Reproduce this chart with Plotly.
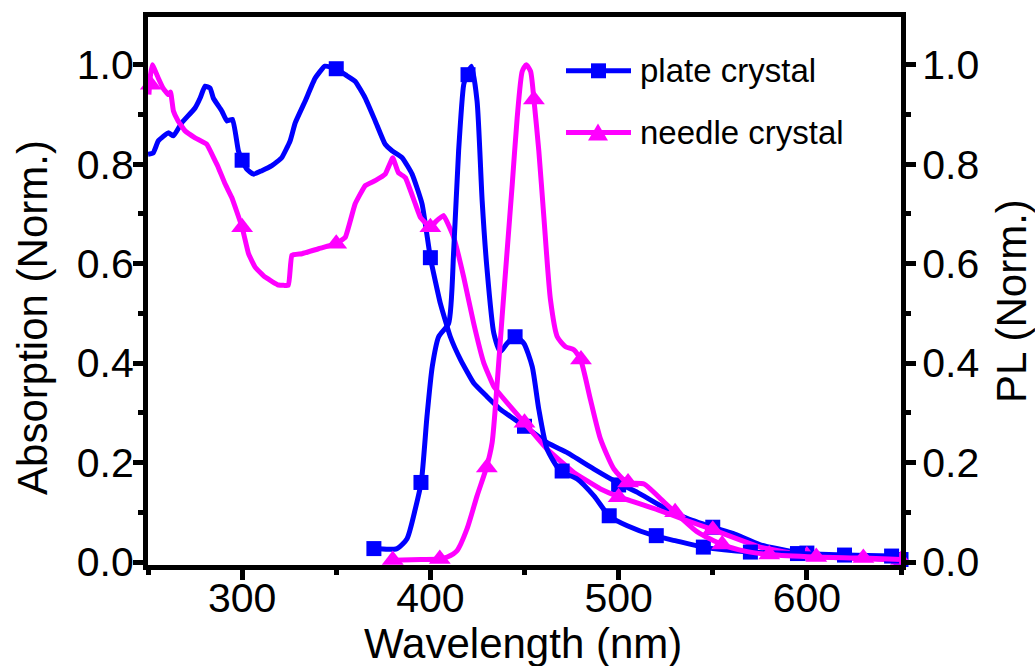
import plotly.graph_objects as go

# ---------------- data ----------------
# Absorption, plate crystal
abs_plate_wl = [250, 252.8, 255.5, 260.8, 263.5, 267.9, 275, 277.7, 280.3, 283, 284.7, 289.2, 291.9,
                294.9, 298, 300, 302.5, 306, 310.5, 315.8, 321, 325.5, 328.2, 333.5, 338.8, 344, 350,
                354.8, 360, 365.4, 370.7, 376, 379.6, 385, 390.3, 395.6, 400, 405.3, 410.6, 416, 423,
                430, 437.2, 450, 462, 472.7, 486.9, 499.3, 510, 522.3, 535, 550, 561, 575, 593, 614,
                630, 650]
abs_plate_val = [0.82, 0.823, 0.847, 0.863, 0.857, 0.883, 0.913, 0.933, 0.957, 0.953, 0.933, 0.907, 0.887,
                 0.89, 0.827, 0.808, 0.79, 0.78, 0.787, 0.797, 0.813, 0.847, 0.883, 0.927, 0.973, 0.997, 0.992,
                 0.98, 0.967, 0.933, 0.887, 0.84, 0.827, 0.813, 0.78, 0.72, 0.612, 0.52, 0.453, 0.407, 0.36,
                 0.333, 0.307, 0.273, 0.24, 0.22, 0.187, 0.16, 0.14, 0.113, 0.09, 0.07, 0.057, 0.035, 0.02, 0.013,
                 0.008, 0.005]
abs_plate_mk_wl = [300, 350, 400, 450, 500, 550, 600, 650]
abs_plate_mk_val = [0.808, 0.992, 0.612, 0.273, 0.155, 0.07, 0.018, 0.005]

# Absorption, needle crystal
abs_needle_wl = [250.5, 251, 252.3, 255.5, 258, 260.8, 262, 263.5, 266, 269.7, 275, 281.2, 285.6, 287.4,
                 291, 294.5, 300, 303.4, 306.9, 312.2, 319.3, 324.6, 326.4, 331.8, 340.6, 349.8, 354.8, 360,
                 365.4, 370.7, 376, 380, 383, 386.7, 392, 394.7, 400, 403, 407, 412.4, 417.7, 423, 428.4,
                 433.7, 440.8, 450, 462, 476.2, 490.4, 501, 522.3, 535, 550, 575, 600, 625, 650]
abs_needle_val = [0.94, 0.97, 1.0, 0.973, 0.953, 0.94, 0.945, 0.907, 0.887, 0.867, 0.853, 0.84, 0.807, 0.793,
                  0.76, 0.733, 0.673, 0.62, 0.593, 0.573, 0.557, 0.557, 0.617, 0.62, 0.63, 0.64, 0.653, 0.72,
                  0.757, 0.767, 0.78, 0.813, 0.783, 0.773, 0.72, 0.693, 0.673, 0.685, 0.697, 0.653, 0.573, 0.48,
                  0.4, 0.353, 0.32, 0.28, 0.227, 0.18, 0.147, 0.13, 0.103, 0.085, 0.065, 0.03, 0.013, 0.007,
                  0.004]
abs_needle_mk_wl = [251.5, 300, 350, 400, 450, 500, 550, 600, 650]
abs_needle_mk_val = [0.96, 0.673, 0.64, 0.673, 0.28, 0.13, 0.065, 0.013, 0.004]

# PL, plate crystal
pl_plate_wl = [370, 382.3, 387.6, 392, 395.2, 398.2, 401, 404.4, 409.7, 412.4, 415, 417.7, 419.1, 421.8,
               424.8, 427.5, 430, 433.7, 437.2, 440.8, 445.2, 449.6, 454.1, 457.6, 462, 469.1, 478, 486.9,
               494.9, 504.6, 518.8, 530, 545, 570, 595, 620, 645]
pl_plate_val = [0.027, 0.027, 0.047, 0.107, 0.162, 0.293, 0.393, 0.453, 0.48, 0.627, 0.827, 0.96, 0.977, 0.997,
                0.927, 0.727, 0.593, 0.46, 0.423, 0.44, 0.453, 0.44, 0.393, 0.307, 0.227, 0.183, 0.167, 0.133,
                0.093, 0.073, 0.053, 0.043, 0.03, 0.02, 0.017, 0.014, 0.012]
pl_plate_mk_wl = [370, 395, 420, 445, 470, 495, 520, 545, 570, 595, 620, 645]
pl_plate_mk_val = [0.027, 0.16, 0.98, 0.453, 0.183, 0.093, 0.053, 0.03, 0.02, 0.017, 0.014, 0.012]

# PL, needle crystal
pl_needle_wl = [378, 385, 395, 405, 409, 414.2, 419.5, 424.8, 429.8, 432.8, 435.5, 438.1, 440.8, 443.5,
                446.1, 448.8, 450.9, 453.2, 455, 457.6, 460.3, 463.8, 467.4, 471.8, 476.2, 479.8, 485, 490.4,
                497.5, 504.6, 513.5, 522.3, 530, 542, 555, 567, 580, 605, 630, 650]
pl_needle_val = [0.003, 0.004, 0.005, 0.006, 0.01, 0.023, 0.067, 0.133, 0.19, 0.24, 0.36, 0.493, 0.627, 0.76,
                 0.893, 0.987, 1.0, 0.987, 0.93, 0.827, 0.693, 0.527, 0.453, 0.433, 0.427, 0.407, 0.327, 0.247,
                 0.187, 0.16, 0.157, 0.127, 0.1, 0.06, 0.035, 0.022, 0.015, 0.01, 0.008, 0.005]
pl_needle_mk_wl = [380, 405, 430, 455, 480, 505, 530, 555, 580, 605, 630]
pl_needle_mk_val = [0.004, 0.006, 0.19, 0.93, 0.407, 0.16, 0.1, 0.035, 0.015, 0.01, 0.008]

x_ticks = [300, 400, 500, 600]
y_ticks = [0.0, 0.2, 0.4, 0.6, 0.8, 1.0]
legend_labels = ["plate crystal", "needle crystal"]

BLUE = "#0000FF"
MAG = "#FF00FF"
FONT = "Liberation Sans, Arial, sans-serif"
LW = 5

fig = go.Figure()

def add_series(wl, val, mwl, mval, color, symbol, msize, axis, smoothing):
    fig.add_trace(go.Scatter(x=wl, y=val, mode="lines", yaxis=axis,
                             line=dict(color=color, width=LW, shape="spline", smoothing=smoothing),
                             showlegend=False, hoverinfo="skip"))
    fig.add_trace(go.Scatter(x=mwl, y=mval, mode="markers", yaxis=axis, cliponaxis=False,
                             marker=dict(color=color, symbol=symbol, size=msize, line=dict(width=0)),
                             showlegend=False))

add_series(abs_plate_wl, abs_plate_val, abs_plate_mk_wl, abs_plate_mk_val, BLUE, "square", 15, "y", 0.4)
add_series(abs_needle_wl, abs_needle_val, abs_needle_mk_wl, abs_needle_mk_val, MAG, "triangle-up", 19, "y", 0.3)
add_series(pl_plate_wl, pl_plate_val, pl_plate_mk_wl, pl_plate_mk_val, BLUE, "square", 15, "y2", 0.6)
add_series(pl_needle_wl, pl_needle_val, pl_needle_mk_wl, pl_needle_mk_val, MAG, "triangle-up", 19, "y2", 0.6)

# ---------------- layout ----------------
L, R, T, B = 148, 134, 15, 101
W, H = 1035, 666
PW, PH = W - L - R, H - T - B

def px_x(p):
    return (p - L) / PW

def px_y(p):
    return (H - B - p) / PH

axis_common = dict(showgrid=False, zeroline=False, showline=True, linecolor="black", linewidth=LW,
                   ticks="outside", ticklen=10, tickwidth=LW, tickcolor="black",
                   tickfont=dict(family=FONT, size=41, color="black"))

fig.update_layout(
    width=W, height=H,
    margin=dict(l=L, r=R, t=T, b=B),
    paper_bgcolor="white", plot_bgcolor="white",
    showlegend=False,
    xaxis=dict(range=[250, 650], tickvals=x_ticks, mirror=True, ticklabelstandoff=-17,
               minor=dict(dtick=50, tick0=250, ticklen=5, tickwidth=LW, tickcolor="black", ticks="outside"),
               **axis_common),
    yaxis=dict(range=[-0.006, 1.096], tickvals=y_ticks, tickformat=".1f", ticklabelstandoff=-9,
               minor=dict(dtick=0.1, tick0=0, ticklen=5, tickwidth=LW, tickcolor="black", ticks="outside"),
               **axis_common),
    yaxis2=dict(range=[-0.006, 1.096], tickvals=y_ticks, tickformat=".1f", overlaying="y", side="right",
                ticklabelstandoff=-2,
                minor=dict(dtick=0.1, tick0=0, ticklen=5, tickwidth=LW, tickcolor="black", ticks="outside"),
                **axis_common),
)

annotations = [
    dict(text="Wavelength (nm)", x=px_x(523), y=px_y(644), xref="paper", yref="paper",
         xanchor="center", yanchor="middle", showarrow=False, font=dict(family=FONT, size=42, color="black")),
    dict(text="Absorption (Norm.)", x=px_x(33), y=px_y(317), xref="paper", yref="paper", textangle=-90,
         xanchor="center", yanchor="middle", showarrow=False, font=dict(family=FONT, size=42, color="black")),
    dict(text="PL (Norm.)", x=px_x(1012), y=px_y(300), xref="paper", yref="paper", textangle=-90,
         xanchor="center", yanchor="middle", showarrow=False, font=dict(family=FONT, size=42, color="black")),
]

# manual legend (line sample + marker + label)
shapes = []
leg_rows = [(69, BLUE, "square", legend_labels[0]), (131, MAG, "triangle", legend_labels[1])]
for py, color, kind, label in leg_rows:
    shapes.append(dict(type="line", xref="paper", yref="paper", x0=px_x(566), x1=px_x(631),
                       y0=px_y(py), y1=px_y(py), line=dict(color=color, width=LW)))
    if kind == "square":
        shapes.append(dict(type="rect", xref="paper", yref="paper", x0=px_x(591), x1=px_x(606),
                           y0=px_y(py + 7.5), y1=px_y(py - 7.5), fillcolor=color, line=dict(width=0)))
    else:
        path = "M {:.5f},{:.5f} L {:.5f},{:.5f} L {:.5f},{:.5f} Z".format(
            px_x(588), px_y(py + 8), px_x(608), px_y(py + 8), px_x(598), px_y(py - 9))
        shapes.append(dict(type="path", xref="paper", yref="paper", path=path, fillcolor=color,
                           line=dict(width=0)))
    annotations.append(dict(text=label, x=px_x(638), y=px_y(py), xref="paper", yref="paper",
                            xanchor="left", yanchor="middle", showarrow=False,
                            font=dict(family=FONT, size=33, color="black")))

fig.update_layout(annotations=annotations, shapes=shapes)

fig.write_html("out.html")
